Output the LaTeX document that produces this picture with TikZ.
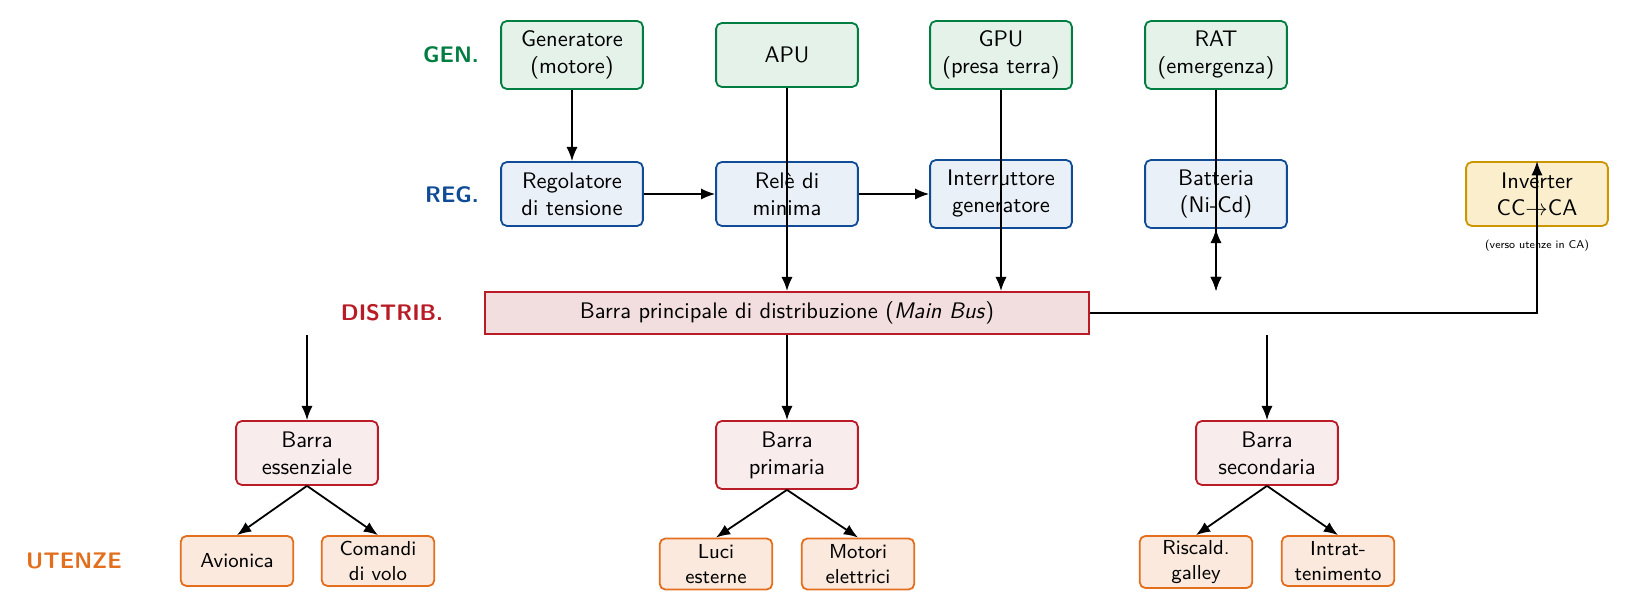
\documentclass[tikz,border=0pt]{standalone}
\usepackage{fontspec}
\usetikzlibrary{arrows.meta,calc}
\definecolor{genC}{RGB}{0,125,65}
\definecolor{genF}{RGB}{228,242,234}
\definecolor{regC}{RGB}{16,76,150}
\definecolor{regF}{RGB}{234,240,247}
\definecolor{busC}{RGB}{185,28,38}
\definecolor{busF}{RGB}{243,222,223}
\definecolor{barF}{RGB}{248,236,237}
\definecolor{useC}{RGB}{226,110,30}
\definecolor{useF}{RGB}{250,233,220}
\definecolor{invC}{RGB}{204,150,0}
\definecolor{invF}{RGB}{250,238,205}
\begin{document}
\begin{tikzpicture}[x=0.4444pt,y=-0.4444pt,
  font=\sffamily,
  box/.style={draw,line width=0.8pt,rounded corners=2.5pt,align=center,inner sep=1pt,
    minimum width=63pt,minimum height=28.4pt},
  tall/.style={minimum height=30.2pt},
  genbox/.style={box,draw=genC,fill=genF},
  regbox/.style={box,draw=regC,fill=regF},
  invbox/.style={box,draw=invC,fill=invF},
  barbox/.style={box,draw=busC,fill=barF},
  busbox/.style={draw=busC,fill=busF,line width=0.8pt,minimum width=268.4pt,minimum height=18.7pt,inner sep=1pt},
  usebox/.style={draw=useC,fill=useF,line width=0.8pt,rounded corners=2.5pt,align=center,inner sep=1pt,
    minimum width=50pt,minimum height=22.2pt,font=\sffamily\small},
  lvl/.style={font=\sffamily\bfseries},
  conn/.style={line width=0.8pt,-{Latex[length=6.3pt,width=5pt]}},
  conn2/.style={line width=0.8pt,{Latex[length=6.3pt,width=5pt]}-{Latex[length=6.3pt,width=5pt]}}
]
\useasboundingbox (0,0) rectangle (1629,611);

% level labels
\node[lvl,text=genC] (lgen) at (451,55) {GEN.};
\node[lvl,text=regC] (lreg) at (452,195) {REG.};
\node[lvl,text=busC] (ldis) at (392,313) {DISTRIB.};
\node[lvl,text=useC] (luse) at (74,561) {UTENZE};

% generation
\node[genbox,tall] (gen) at (572,55) {Generatore\\(motore)};
\node[genbox] (apu) at (787,55) {APU};
\node[genbox,tall] (gpu) at (1001,55) {GPU\\(presa terra)};
\node[genbox,tall] (rat) at (1216,55) {RAT\\(emergenza)};

% regulation
\node[regbox] (reg) at (572,194) {Regolatore\\di tensione};
\node[regbox] (rele) at (787,194) {Relè di\\minima};
\node[regbox,tall] (intr) at (1001,194) {Interruttore\\generatore};
\node[regbox,tall] (batt) at (1216,194) {Batteria\\(Ni-Cd)};
\node[invbox] (inv) at (1537,194) {Inverter\\CC$\rightarrow$CA};
\node[font=\sffamily\tiny] (invnote) at (1537,246) {(verso utenze in CA)};

% main bus
\node[busbox] (bus) at (787,313) {Barra principale di distribuzione (\textit{Main Bus})};

% secondary bars
\node[barbox] (ess) at (307,453) {Barra\\essenziale};
\node[barbox,tall] (prim) at (787,455) {Barra\\primaria};
\node[barbox] (sec) at (1267,453) {Barra\\secondaria};

% loads
\node[usebox] (avi) at (237,561) {Avionica};
\node[usebox] (com) at (378,561) {Comandi\\di volo};
\node[usebox,minimum height=22.7pt] (luc) at (716,564) {Luci\\esterne};
\node[usebox,minimum height=22.7pt] (mot) at (858,564) {Motori\\elettrici};
\node[usebox,minimum height=23.1pt] (ris) at (1196,562) {Riscald.\\galley};
\node[usebox] (int) at (1338,561) {Intrat-\\tenimento};

% connectors
\draw[conn] (gen.south) -- (reg.north);
\draw[conn] (reg.east) -- (rele.west);
\draw[conn] (rele.east) -- (intr.west);
\draw[conn] (apu.south) -- (apu.south |- bus.north);
\draw[conn] (gpu.south) -- (gpu.south |- bus.north);
\draw[conn] (rat.south) -- (rat.south |- bus.north);
\draw[conn2] (batt.south) -- (batt.south |- bus.north);
\draw[conn] (bus.east) -| (inv.north);

\draw[conn] (ess.north |- bus.south) -- (ess.north);
\draw[conn] (bus.south) -- (prim.north);
\draw[conn] (sec.north |- bus.south) -- (sec.north);

\draw[conn] (ess.south) -- (avi.north);
\draw[conn] (ess.south) -- (com.north);
\draw[conn] (prim.south) -- (luc.north);
\draw[conn] (prim.south) -- (mot.north);
\draw[conn] (sec.south) -- (ris.north);
\draw[conn] (sec.south) -- (int.north);
\end{tikzpicture}
\end{document}
